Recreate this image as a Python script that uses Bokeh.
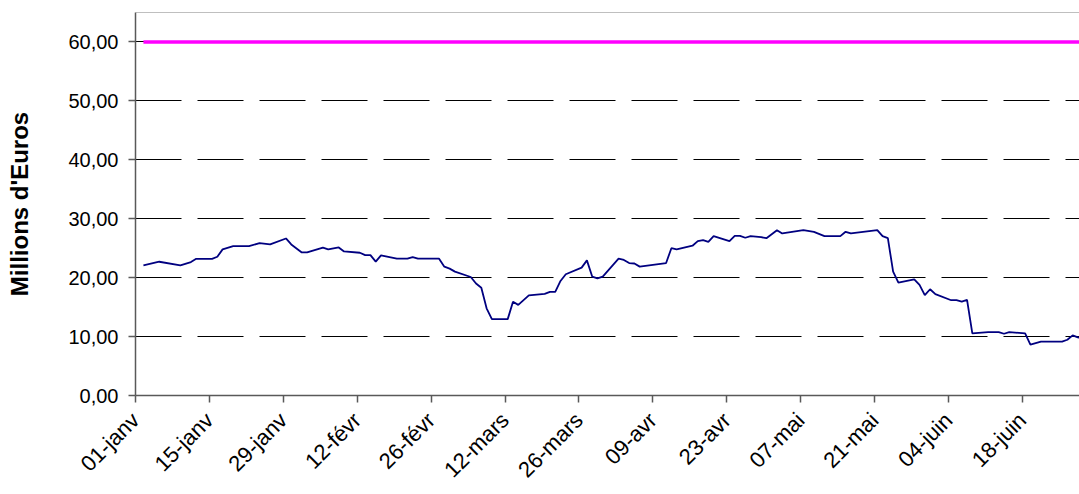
import pandas as pd
from bokeh.plotting import figure
from bokeh.models import Range1d, FixedTicker, Span
from bokeh.embed import file_html
from bokeh.resources import INLINE

# ---- data ----
dates = [
    "2003-01-02", "2003-01-05", "2003-01-09", "2003-01-11", "2003-01-12", "2003-01-15",
    "2003-01-16", "2003-01-17", "2003-01-19", "2003-01-22", "2003-01-24", "2003-01-26",
    "2003-01-29", "2003-01-30", "2003-02-01", "2003-02-02", "2003-02-05", "2003-02-06",
    "2003-02-08", "2003-02-09", "2003-02-12", "2003-02-13", "2003-02-14", "2003-02-15",
    "2003-02-16", "2003-02-19", "2003-02-21", "2003-02-22", "2003-02-23", "2003-02-27",
    "2003-02-28", "2003-03-01", "2003-03-02", "2003-03-05", "2003-03-06", "2003-03-07",
    "2003-03-08", "2003-03-09", "2003-03-12", "2003-03-13", "2003-03-14", "2003-03-16",
    "2003-03-19", "2003-03-20", "2003-03-21", "2003-03-22", "2003-03-23", "2003-03-26",
    "2003-03-27", "2003-03-28", "2003-03-29", "2003-03-30", "2003-04-02", "2003-04-03",
    "2003-04-04", "2003-04-05", "2003-04-06", "2003-04-11", "2003-04-12", "2003-04-13",
    "2003-04-16", "2003-04-17", "2003-04-18", "2003-04-19", "2003-04-20", "2003-04-23",
    "2003-04-24", "2003-04-25", "2003-04-26", "2003-04-27", "2003-04-29", "2003-04-30",
    "2003-05-02", "2003-05-03", "2003-05-07", "2003-05-09", "2003-05-11", "2003-05-14",
    "2003-05-15", "2003-05-16", "2003-05-21", "2003-05-22", "2003-05-23", "2003-05-24",
    "2003-05-25", "2003-05-28", "2003-05-29", "2003-05-30", "2003-05-31", "2003-06-01",
    "2003-06-04", "2003-06-05", "2003-06-06", "2003-06-07", "2003-06-08", "2003-06-11",
    "2003-06-13", "2003-06-14", "2003-06-15", "2003-06-18", "2003-06-19", "2003-06-21",
    "2003-06-25", "2003-06-26", "2003-06-27", "2003-06-28", "2003-06-29",
]
encours = [
    22.10, 22.70, 22.10, 22.65, 23.20, 23.20,
    23.55, 24.80, 25.35, 25.35, 25.86, 25.64,
    26.65, 25.64, 24.28, 24.28, 25.08, 24.79,
    25.13, 24.45, 24.23, 23.83, 23.83, 22.71,
    23.78, 23.22, 23.22, 23.50, 23.22, 23.22,
    21.87, 21.53, 21.02, 20.11, 19.00, 18.30,
    14.80, 12.96, 12.96, 15.90, 15.38, 17.00,
    17.24, 17.58, 17.58, 19.44, 20.57, 21.70,
    22.93, 20.18, 19.89, 20.18, 23.22, 23.00,
    22.48, 22.40, 21.87, 22.48, 25.00, 24.79,
    25.42, 26.20, 26.37, 26.09, 27.04, 26.20,
    27.10, 27.10, 26.77, 27.04, 26.87, 26.70,
    28.06, 27.50, 28.06, 27.78, 27.04, 27.04,
    27.78, 27.50, 28.06, 27.04, 26.70, 21.02,
    19.16, 19.72, 18.76, 17.02, 18.03, 17.19,
    16.17, 16.17, 15.95, 16.22, 10.54, 10.77,
    10.77, 10.48, 10.77, 10.54, 8.62, 9.13,
    9.13, 9.46, 10.20, 9.87, 9.60,
]
limite_dates = ["2003-01-02", "2003-06-29"]
limite = [60.0, 60.0]

tick_dates = ["2003-01-01", "2003-01-15", "2003-01-29", "2003-02-12", "2003-02-26",
              "2003-03-12", "2003-03-26", "2003-04-09", "2003-04-23", "2003-05-07",
              "2003-05-21", "2003-06-04", "2003-06-18"]
tick_labels = ["01-janv", "15-janv", "29-janv", "12-févr", "26-févr", "12-mars",
               "26-mars", "09-avr", "23-avr", "07-mai", "21-mai", "04-juin", "18-juin"]
y_ticks = [0, 10, 20, 30, 40, 50, 60]
y_labels = ["0,00", "10,00", "20,00", "30,00", "40,00", "50,00", "60,00"]
y_title = "Millions d'Euros"

origin = pd.Timestamp("2003-01-01")


def day_center(ds):
    return [(pd.Timestamp(d) - origin).days + 0.5 for d in ds]


def day_start(ds):
    return [(pd.Timestamp(d) - origin).days for d in ds]


FONT = "Liberation Sans"

p = figure(width=1079, height=494, output_backend="svg", toolbar_location=None,
           x_range=Range1d(0, 178.8), y_range=Range1d(0, 65),
           min_border_left=135, min_border_right=0, min_border_top=12,
           min_border_bottom=97, outline_line_color=None,
           background_fill_color="white", border_fill_color="white")

# grid
p.xgrid.grid_line_color = None
p.ygrid.ticker = FixedTicker(ticks=[t for t in y_ticks if t > 0])
p.ygrid.grid_line_color = "#000000"
p.ygrid.grid_line_width = 1
p.ygrid.grid_line_dash = "46 16"

# top border of plot area
p.add_layout(Span(location=65, dimension="width", line_color="#808080", line_width=1))

# series
p.line(day_center(dates), encours, line_color="#000080", line_width=1.8)
p.line(day_center(limite_dates), limite, line_color="#FF00FF", line_width=3.5)

# x axis
xt = day_start(tick_dates)
p.xaxis.ticker = FixedTicker(ticks=xt)
p.xaxis.major_label_overrides = {t: l for t, l in zip(xt, tick_labels)}
p.xaxis.major_label_orientation = 0.785398
p.xaxis.major_label_text_font = FONT
p.xaxis.major_label_text_font_size = "22px"
p.xaxis.major_label_text_color = "#000000"
p.xaxis.major_label_standoff = 14
p.xaxis.minor_tick_line_color = None
p.xaxis.major_tick_in = 0
p.xaxis.major_tick_out = 7
p.xaxis.axis_line_color = "#595959"
p.xaxis.axis_line_width = 1.5
p.xaxis.major_tick_line_color = "#595959"
p.xaxis.major_tick_line_width = 1.5

# y axis
p.yaxis.ticker = FixedTicker(ticks=y_ticks)
p.yaxis.major_label_overrides = {t: l for t, l in zip(y_ticks, y_labels)}
p.yaxis.major_label_text_font = FONT
p.yaxis.major_label_text_font_size = "20px"
p.yaxis.major_label_text_color = "#000000"
p.yaxis.major_label_standoff = 10
p.yaxis.minor_tick_line_color = None
p.yaxis.major_tick_in = 0
p.yaxis.major_tick_out = 7
p.yaxis.axis_line_color = "#595959"
p.yaxis.axis_line_width = 1.5
p.yaxis.major_tick_line_color = "#595959"
p.yaxis.major_tick_line_width = 1.5
p.yaxis.axis_label = y_title
p.yaxis.axis_label_text_font = FONT
p.yaxis.axis_label_text_font_size = "24px"
p.yaxis.axis_label_text_font_style = "bold"
p.yaxis.axis_label_text_color = "#000000"
p.yaxis.axis_label_standoff = 32

open("out.html", "w").write(file_html(p, INLINE))
